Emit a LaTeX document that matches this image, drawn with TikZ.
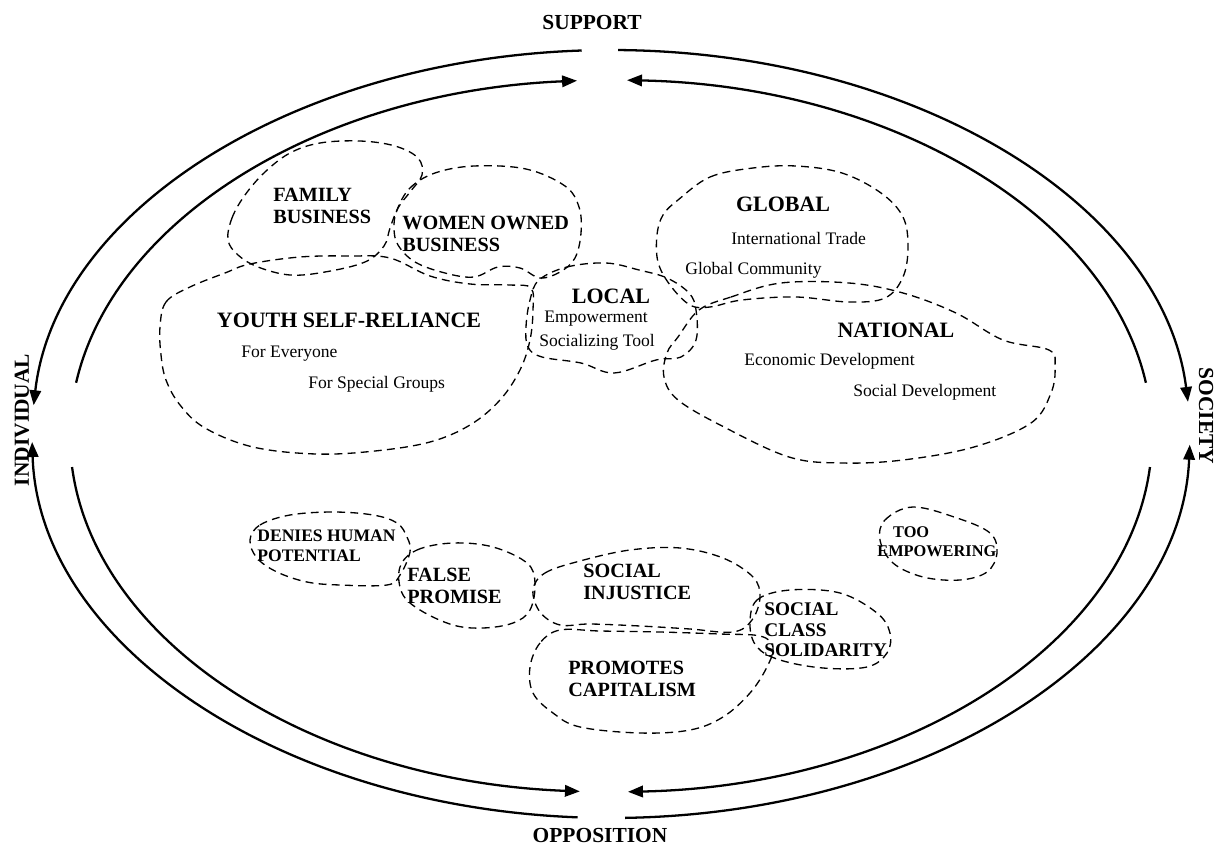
\documentclass[tikz,border=0pt]{standalone}
\usepackage{fontspec}
\setmainfont{Liberation Serif}
\usetikzlibrary{arrows.meta}
\tikzset{
  flow/.style={line width=1.3pt, -{Triangle[length=8.5pt,width=6.5pt]}},
  blob/.style={dash pattern=on 4.5pt off 3pt, line width=0.75pt},
  axislabel/.style={inner sep=0pt, font=\bfseries\fontsize{12.2}{14}\selectfont},
  head/.style={inner sep=0pt, font=\bfseries\fontsize{12.5}{14}\selectfont},
  tag/.style={inner sep=0pt, anchor=west, align=left, font=\bfseries\fontsize{11.5}{12.2}\selectfont},
  sub/.style={inner sep=0pt, anchor=west, font=\fontsize{10}{12}\selectfont},
}

\begin{document}
\begin{tikzpicture}[x=0.02cm, y=-0.02cm]
			%%%%% START %%%%%
			\useasboundingbox (0,0) rectangle (1217,848);
			
			\coordinate (outer) at (611,434);
			\coordinate (inner) at (611,436);
			
			% outer ring
			\draw[flow] ([shift={(-92.9:579 and 384)}]outer) arc[start angle=-92.9, end angle=-175.7, x radius=579, y radius=384];
			\draw[flow] ([shift={(-89.3:579 and 384)}]outer) arc[start angle=-89.3, end angle=-4.8, x radius=579, y radius=384];
			\draw[flow] ([shift={(93.3:579 and 384)}]outer) arc[start angle=93.3, end angle=178.8, x radius=579, y radius=384];
			\draw[flow] ([shift={(88.6:579 and 384)}]outer) arc[start angle=88.6, end angle=1.6, x radius=579, y radius=384];
			
			% inner ring
			\draw[flow] ([shift={(-171.4:541 and 356)}]inner) arc[start angle=-171.4, end angle=-93.6, x radius=541, y radius=356];
			\draw[flow] ([shift={(-8.6:541 and 356)}]inner) arc[start angle=-8.6, end angle=-88.3, x radius=541, y radius=356];
			\draw[flow] ([shift={(175:541 and 356)}]inner) arc[start angle=175, end angle=93.3, x radius=541, y radius=356];
			\draw[flow] ([shift={(5:541 and 356)}]inner) arc[start angle=5, end angle=88.2, x radius=541, y radius=356];
			
			\node[axislabel] (support) at (592,23) {SUPPORT};
			\node[axislabel] (opposition) at (600,836) {OPPOSITION};
			\node[axislabel, rotate=90] (individual) at (22,420) {INDIVIDUAL};
			\node[axislabel, rotate=-90] (society) at (1206,416) {SOCIETY};
			
			% support side
			\draw[blob] plot[smooth cycle, tension=0.6] coordinates {(228,240) (232,218) (245,195) (265,172) (290,153) (320,143) (360,141) (395,146) (418,158) (422,175) (410,192) (398,208) (390,228) (384,246) (365,262) (325,272) (290,275) (258,267) (238,255)};
			\draw[blob] plot[smooth cycle, tension=0.6] coordinates {(397,210) (410,188) (435,173) (474,166) (526,169) (565,186) (579,207) (581,233) (575,258) (560,272) (540,278) (520,268) (498,267) (474,277) (445,273) (415,262) (398,245) (394,228)};
			\draw[blob] plot[smooth cycle, tension=0.6] coordinates {(160,327) (166,302) (190,287) (225,273) (250,264) (300,257) (350,256) (390,258) (430,276) (470,284) (510,285) (531,288) (533,310) (530,340) (520,370) (500,400) (470,425) (430,442) (375,451) (316,454) (253,447) (205,428) (180,405) (166,380) (161,355)};
			\draw[blob] plot[smooth cycle, tension=0.6] coordinates {(539,280) (567,267) (606,263) (639,270) (667,278) (689,293) (696,310) (696,340) (681,357) (656,360) (614,373) (581,363) (542,357) (528,347) (526,327) (530,300)};
			\draw[blob] plot[smooth cycle, tension=0.6] coordinates {(678,200) (710,177) (753,168) (796,166) (842,173) (881,193) (903,217) (908,247) (903,277) (885,298) (849,302) (796,297) (742,300) (710,307) (690,305) (670,285) (658,262) (657,235) (663,215)};
			\draw[blob] plot[smooth cycle, tension=0.6] coordinates {(699,310) (731,297) (781,283) (849,283) (903,293) (956,313) (1003,340) (1049,350) (1055,367) (1051,393) (1031,423) (974,447) (903,460) (842,463) (789,457) (724,427) (678,400) (664,377) (667,353) (678,337)};
			
			\node[tag] (family) at (273,206) {FAMILY\\BUSINESS};
			\node[tag] (women) at (402,234) {WOMEN OWNED\\BUSINESS};
			\node[head] (youth) at (349,320) {YOUTH SELF-RELIANCE};
			\node[sub] (everyone) at (241,354) {For Everyone};
			\node[sub] (special) at (308,384) {For Special Groups};
			\node[head] (local) at (611,296) {LOCAL};
			\node[sub] (empower) at (544,319) {Empowerment};
			\node[sub] (tool) at (539,342) {Socializing Tool};
			\node[head] (global) at (783,204) {GLOBAL};
			\node[sub] (trade) at (731,238) {International Trade};
			\node[sub] (community) at (685,270) {Global Community};
			\node[head] (national) at (896,330) {NATIONAL};
			\node[sub] (economic) at (744,361) {Economic Development};
			\node[sub] (socdev) at (853,392) {Social Development};
			
			% opposition side
			\draw[blob] plot[smooth cycle, tension=0.6] coordinates {(250,540) (260,525) (290,515) (333,512) (373,515) (397,523) (407,537) (410,552) (400,575) (387,585) (340,585) (307,582) (277,572) (257,558)};
			\draw[blob] plot[smooth cycle, tension=0.6] coordinates {(400,567) (417,550) (453,543) (493,547) (527,563) (535,583) (530,610) (513,623) (483,628) (453,625) (420,610) (402,593)};
			\draw[blob] plot[smooth cycle, tension=0.6] coordinates {(533,590) (545,573) (580,561) (630,550) (680,548) (723,558) (753,577) (760,597) (752,620) (733,632) (690,629) (640,626) (590,624) (560,625) (540,612)};
			\draw[blob] plot[smooth cycle, tension=0.6] coordinates {(560,630) (540,643) (530,667) (533,693) (553,713) (580,727) (640,733) (690,730) (723,717) (750,693) (767,667) (773,647) (760,636) (720,634) (660,632) (600,631)};
			\draw[blob] plot[smooth cycle, tension=0.6] coordinates {(750,625) (757,600) (790,590) (840,593) (877,613) (890,633) (887,653) (867,667) (823,668) (780,660) (757,647)};
			\draw[blob] plot[smooth cycle, tension=0.6] coordinates {(880,540) (885,520) (913,507) (957,518) (990,533) (997,553) (987,572) (960,580) (923,577) (893,563)};
			
			\node[tag, font=\bfseries\fontsize{10}{11.3}\selectfont] (denies) at (257,546) {DENIES HUMAN\\POTENTIAL};
			\node[tag] (falsepromise) at (407,586) {FALSE\\PROMISE};
			\node[tag] (injustice) at (583,582) {SOCIAL\\INJUSTICE};
			\node[tag] (capitalism) at (568,679) {PROMOTES\\CAPITALISM};
			\node[tag, font=\bfseries\fontsize{11}{11.6}\selectfont] (solidarity) at (764,630) {SOCIAL\\CLASS\\SOLIDARITY};
			\node[tag, font=\bfseries\fontsize{9.3}{10.8}\selectfont] (empowering) at (877,542) {\hspace{9pt}TOO\\EMPOWERING};
			
			%%%%% END %%%%%
\end{tikzpicture}
\end{document}
